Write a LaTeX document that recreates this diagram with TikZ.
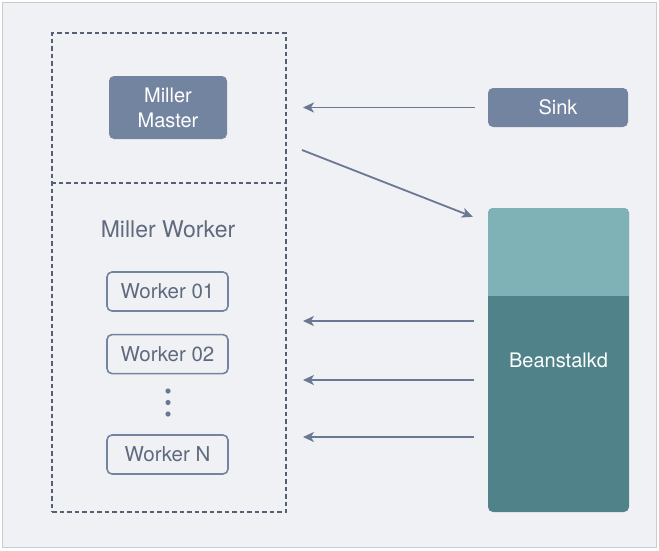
\documentclass[tikz,border=0pt]{standalone}
\usepackage{fontspec}
\setmainfont{TeX Gyre Heros}
\usetikzlibrary{arrows.meta,positioning}
\definecolor{slate}{HTML}{7384A0}
\definecolor{wire}{HTML}{6A7891}
\definecolor{inktext}{HTML}{5F6A7E}
\definecolor{beantop}{HTML}{7EB2B7}
\definecolor{beanlow}{HTML}{4F8289}
\definecolor{paper}{HTML}{F0F1F4}

\begin{document}
\begin{tikzpicture}[x=1pt,y=-1pt,
			every node/.style = {align=center, font=\fontsize{20}{25}\selectfont},
			solidbox/.style = {rounded corners=5pt, fill=slate, text=white, inner sep=0pt},
			workerbox/.style = {rounded corners=5pt, draw=slate, line width=1.6pt, text=inktext,
				minimum width=121pt, minimum height=39pt, inner sep=0pt, font=\fontsize{20.5}{24}\selectfont},
			flow/.style = {draw=wire, line width=1.8pt, -{Stealth[length=11pt,width=10pt,inset=3pt]}}]
			\tikzset{cluster/.style = {draw=wire!80!black, line width=1.9pt, dash pattern=on 4.5pt off 3pt}}
			% page
			\fill[paper, draw=black!20, line width=1pt] (2.5,2.5) rectangle (656.5,547.5);
			\useasboundingbox (0,0) rectangle (659,550);
			% dashed frame and divider
			\node[cluster, minimum width=234pt, minimum height=479pt, inner sep=0pt] (frame) at (169,272.5) {};
			\draw[cluster] (frame.west |- 0,183) -- (frame.east |- 0,183);
			% master side
			\node[solidbox, minimum width=118pt, minimum height=63pt] (master) at (168,107.5) {Miller\\Master};
			\node[solidbox, minimum width=140pt, minimum height=39pt] (sink) at (558,107.5) {Sink};
			% workers
			\node[text=inktext, font=\fontsize{23}{26}\selectfont] (wtitle) at (168,229) {Miller Worker};
			\node[workerbox] (w1) at (167.5,291.5) {Worker 01};
			\node[workerbox, below=22pt of w1] (w2) {Worker 02};
			\node[workerbox] (wn) at (167.5,454.5) {Worker N};
			\foreach \y in {391,402.5,414} \fill[wire] (168,\y) circle (2.6pt);
			% queue
			\node[rounded corners=5pt, fill=beanlow, text=white, minimum width=141pt, minimum height=304pt,
				path picture={\fill[beantop, sharp corners] (path picture bounding box.north west) rectangle
				([yshift=-88pt]path picture bounding box.north east);}] (bean) at (558.5,360) {Beanstalkd};
			% connectors
			\draw[flow, shorten <=13pt, shorten >=16pt] (sink.west) -- (sink.west -| frame.east);
			\coordinate (mout) at (302,150);
			\draw[flow] (mout) -- ([xshift=-15pt,yshift=-9pt]bean.north west);
			\foreach \y in {321,380,437}
				\draw[flow, shorten <=14pt, shorten >=16pt] (bean.west |- 0,\y) -- (frame.east |- 0,\y);
\end{tikzpicture}
\end{document}
